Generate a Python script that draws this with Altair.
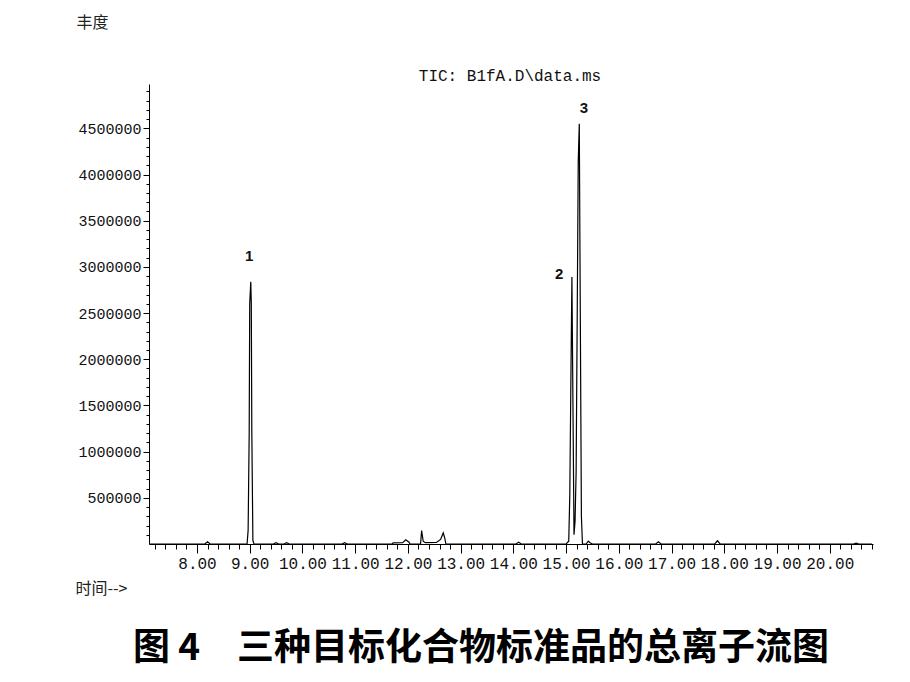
import altair as alt
import pandas as pd

# Chromatogram trace (time in min, abundance)
times = [7.10, 8.15, 8.20, 8.25, 8.95, 8.97, 8.99, 9.00, 9.02, 9.03, 9.04, 9.06, 9.08,
         9.45, 9.50, 9.55, 9.65, 9.70, 9.75, 10.75, 10.80, 10.85,
         11.70, 11.72, 11.90, 11.96, 12.02, 12.04, 12.24, 12.26, 12.29, 12.33, 12.54, 12.62, 12.67, 12.70, 12.72,
         14.05, 14.10, 14.15, 15.00, 15.05, 15.07, 15.09, 15.11, 15.13, 15.15, 15.17, 15.19, 15.21, 15.23, 15.25,
         15.27, 15.29, 15.31, 15.38, 15.42, 15.46, 15.50, 16.70, 16.75, 16.80, 17.82, 17.87, 17.92,
         20.45, 20.50, 20.55, 20.80]
abund = [0, 0, 25000, 0, 0, 150000, 1200000, 2600000, 2840000, 2600000, 1200000, 40000, 0,
         0, 15000, 0, 0, 15000, 0, 0, 15000, 0,
         0, 12000, 15000, 45000, 20000, 0, 0, 145000, 30000, 14000, 16000, 50000, 120000, 60000, 0,
         0, 20000, 0, 0, 30000, 530000, 1730000, 2890000, 1500000, 100000, 250000, 780000, 2400000, 4140000, 4550000,
         2400000, 300000, 0, 0, 30000, 10000, 0, 0, 25000, 0, 0, 35000, 0,
         0, 10000, 0, 0]

# Peak labels
peak_names = ["1", "2", "3"]
peak_t = [8.99, 14.87, 15.34]
peak_v = [3120000, 2920000, 4720000]

# Axis tick values
x_ticks = [round(7.2 + 0.2 * i, 2) for i in range(69)]
y_ticks = [100000 * i for i in range(1, 50)]

title_text = r"TIC: B1fA.D\data.ms"
caption = "图 4　三种目标化合物标准品的总离子流图"

trace = pd.DataFrame({"t": times, "v": abund})
labels = pd.DataFrame({"t": peak_t, "v": peak_v, "s": peak_names})
cap = pd.DataFrame({"c": [caption]})
ttl = pd.DataFrame({"c": [title_text]})

xscale = alt.Scale(domain=[7.09, 20.82], nice=False, zero=False)
yscale = alt.Scale(domain=[0, 4980000], nice=False, zero=True)

is_major_x = "abs(datum.value - round(datum.value)) < 0.01"
is_major_y = "datum.value % 500000 == 0"

xaxis = alt.Axis(
    values=x_ticks, grid=False, domainColor="black", tickColor="black",
    tickSize=alt.ConditionalAxisNumber(condition={"test": is_major_x, "value": 9}, value=5),
    labelExpr="abs(datum.value - round(datum.value)) < 0.01 ? format(datum.value, '.2f') : ''",
    labelOverlap=False, labelFlush=False, labelFont="Liberation Mono", labelFontSize=16,
    labelColor="#111", labelPadding=2,
    title="时间-->", titleFont="Noto Sans CJK SC", titleFontSize=16, titleFontWeight="normal",
    titleColor="#222", titleX=-74, titleY=44, titleAlign="left", titleBaseline="middle", titleAnchor="start",
)
yaxis = alt.Axis(
    values=y_ticks, grid=False, domainColor="black", tickColor="black",
    tickSize=alt.ConditionalAxisNumber(condition={"test": is_major_y, "value": 6}, value=3),
    labelExpr="datum.value % 500000 == 0 ? format(datum.value, 'd') : ''",
    labelOverlap=False, labelFlush=False, labelFont="Liberation Mono", labelFontSize=15,
    labelColor="#111", labelPadding=2,
    title="丰度", titleFont="Noto Sans CJK SC", titleFontSize=16, titleFontWeight="normal",
    titleColor="#222", titleAngle=0, titleX=-57, titleY=-62, titleAlign="center", titleBaseline="middle",
)

line = alt.Chart(trace).mark_line(color="black", strokeWidth=1.2, interpolate="linear").encode(
    x=alt.X("t:Q", scale=xscale, axis=xaxis),
    y=alt.Y("v:Q", scale=yscale, axis=yaxis),
)

peak_text = alt.Chart(labels).mark_text(
    font="Liberation Sans", fontSize=15, fontWeight="bold", color="#111", align="center", baseline="middle"
).encode(
    x=alt.X("t:Q", scale=xscale, axis=xaxis),
    y=alt.Y("v:Q", scale=yscale, axis=yaxis),
    text="s:N",
)

title_mark = alt.Chart(ttl).mark_text(
    font="Liberation Mono", fontSize=16, color="#111", align="center", baseline="middle"
).encode(x=alt.value(361), y=alt.value(-8), text="c:N")

cap_text = alt.Chart(cap).mark_text(
    font="Noto Sans CJK SC", fontSize=37, fontWeight="bold", color="black", align="center", baseline="middle"
).encode(
    x=alt.value(332), y=alt.value(565), text="c:N"
)

chart = alt.layer(line, peak_text, title_mark, cap_text).properties(
    width=724, height=460,
    background="white",
    autosize=alt.AutoSizeParams(type="none"),
    padding={"left": 141, "top": 76, "right": 29, "bottom": 130},
).configure_view(strokeWidth=0, stroke="transparent")

chart.save("out.html", embed_options={"renderer": "svg", "actions": False})
